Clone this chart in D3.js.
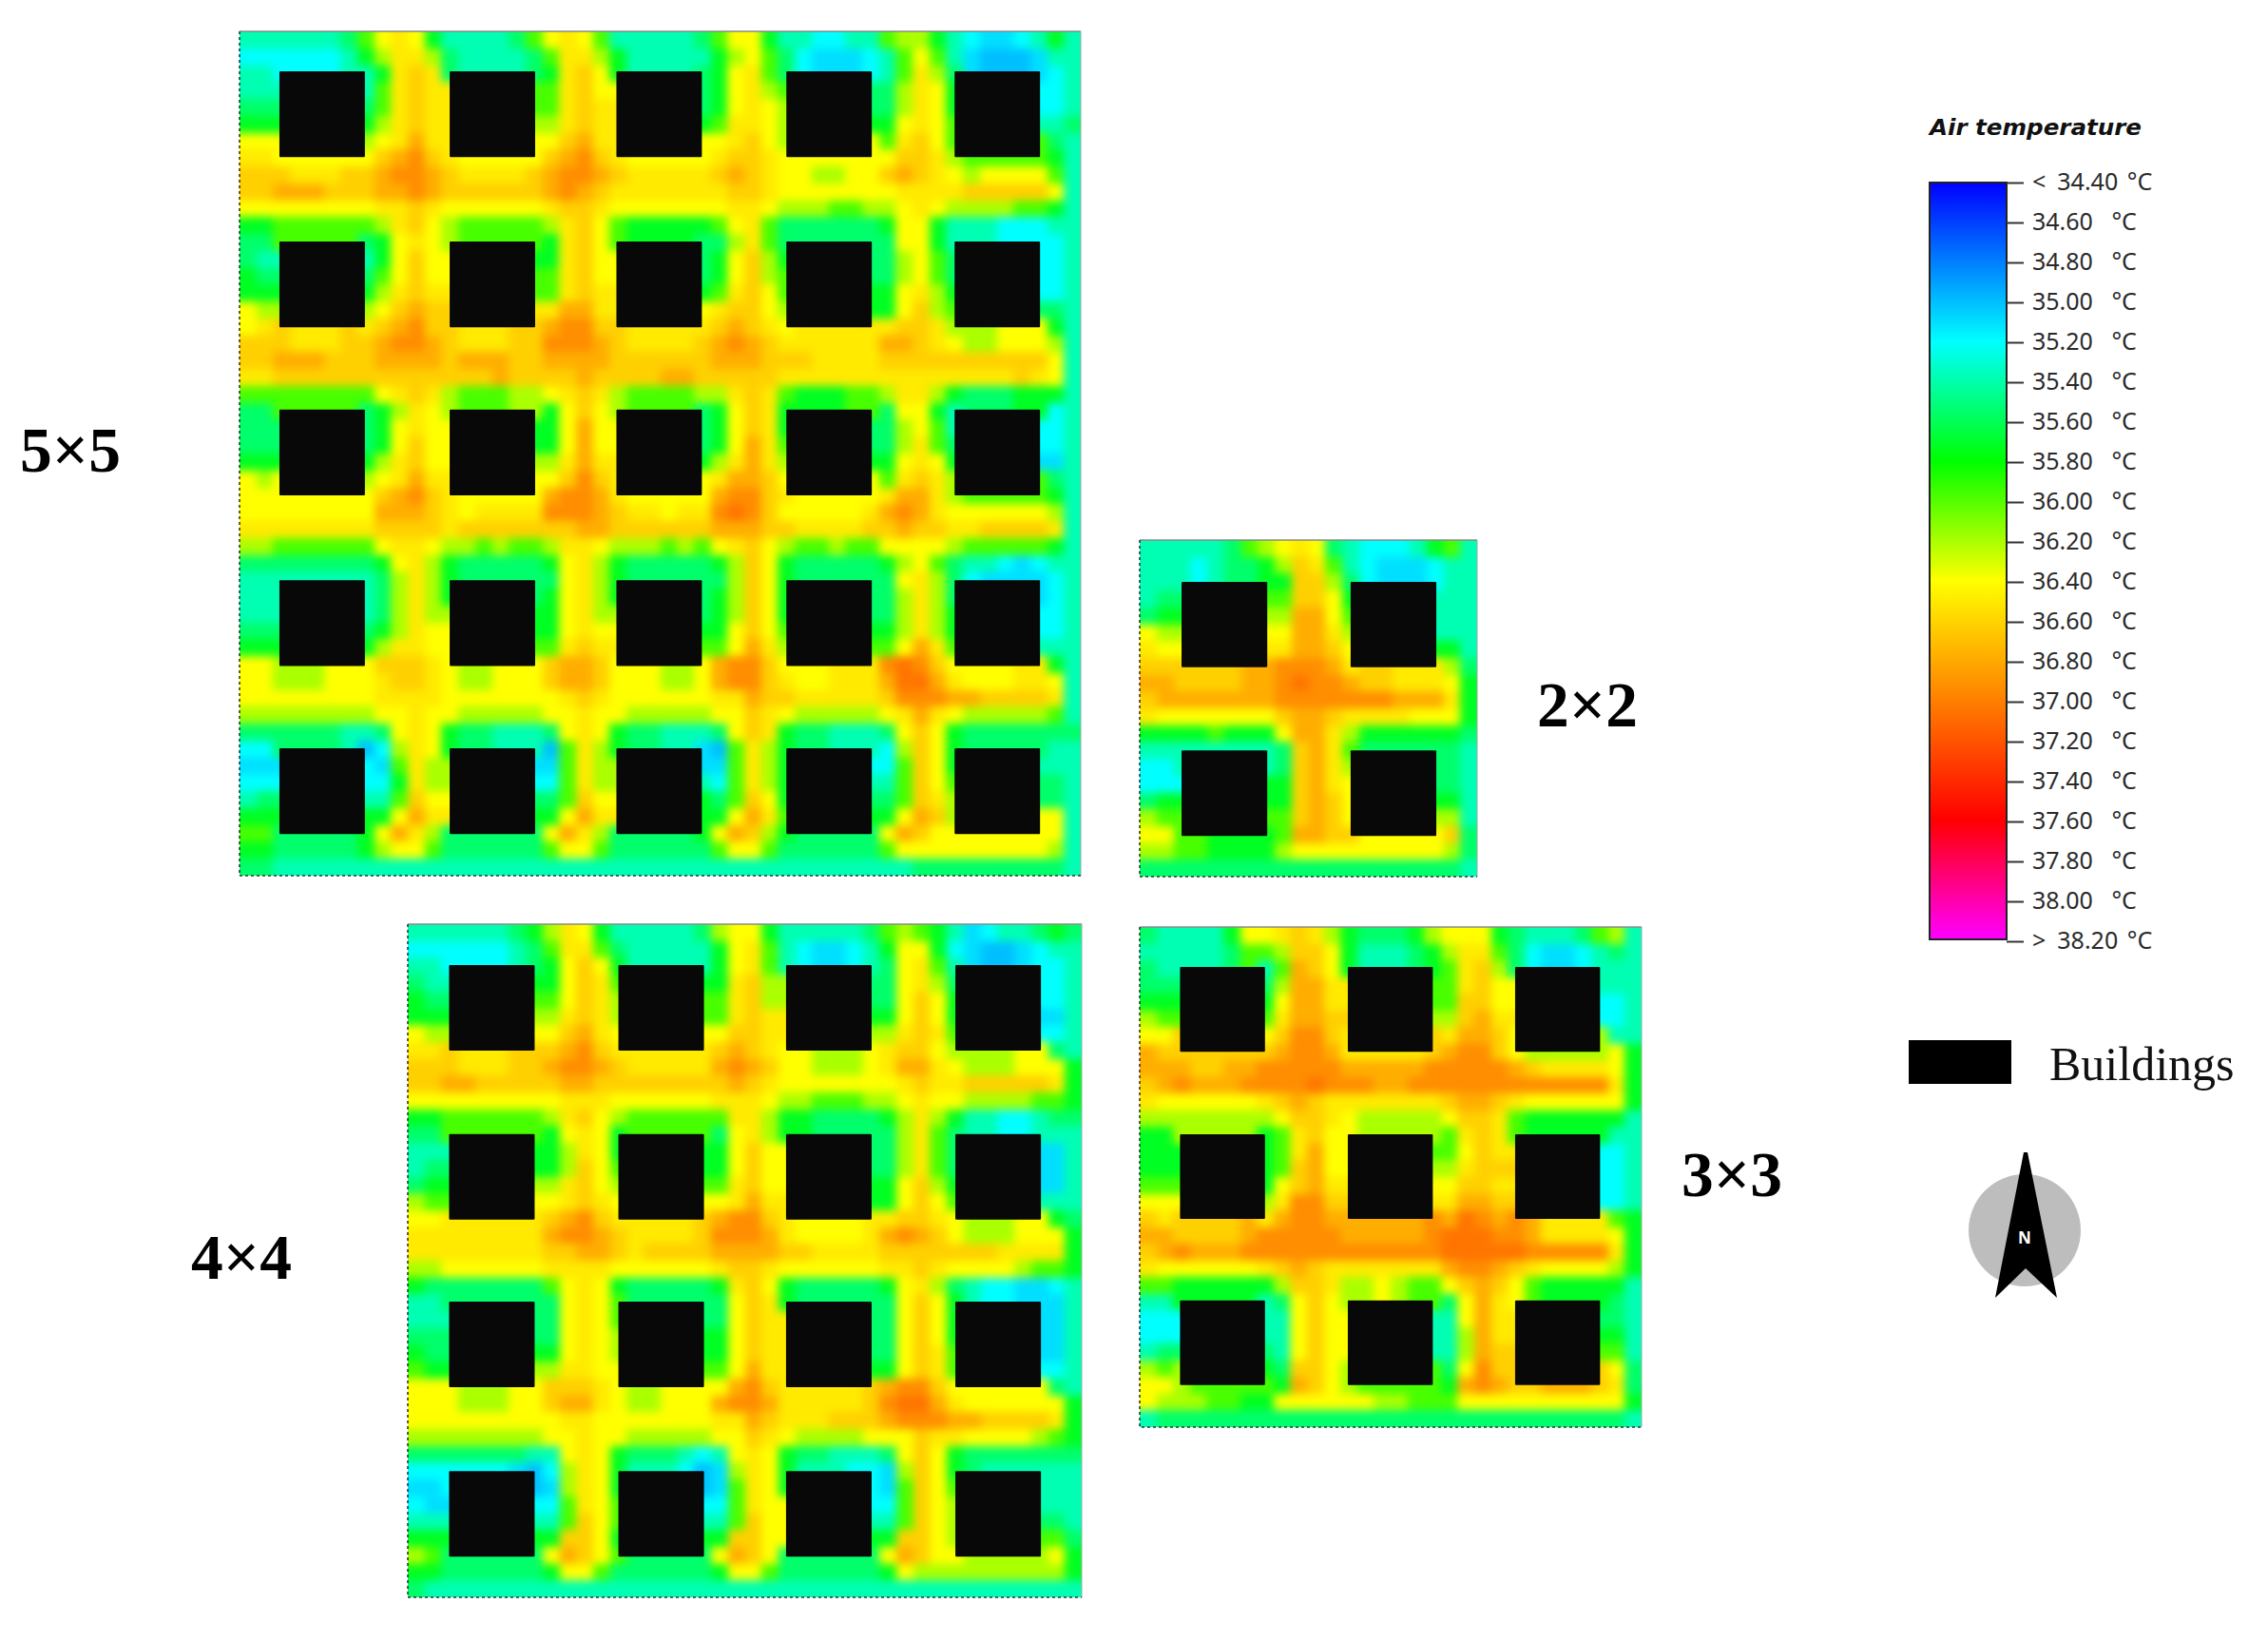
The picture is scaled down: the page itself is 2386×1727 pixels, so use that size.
<!DOCTYPE html>
<html><head><meta charset="utf-8"><title>Air temperature</title>
<script src="https://cdn.jsdelivr.net/npm/d3@7/dist/d3.min.js"></script>
<style>html,body{margin:0;padding:0;background:#fff}svg{display:block}</style></head>
<body><svg id="chart" width="2386" height="1727"></svg>
<script>
// Air temperature levels: a hex digit in the grids below indexes this list (°C)
const levelTemps = [35.0,35.1,35.2,35.38,35.55,35.72,35.97,36.2,36.4,36.5,36.62,36.78,36.93,37.05];

const legendStops = [34.4,35.2,35.8,36.4,37.6,38.2];
const legendColors = ["#0000ff","#00ffff","#00ff00","#ffff00","#ff0000","#ff00ff"];
const legendTicks = [34.4,34.6,34.8,35.0,35.2,35.4,35.6,35.8,36.0,36.2,36.4,36.6,36.8,37.0,37.2,37.4,37.6,37.8,38.0,38.2];

const grid5 = [
"3333334689 8533334689 8633333468 8533223367 7532112353",
"2222223579 9743333469 9753333357 8642111236 8631000133",
"3333333359 a964444459 a854444458 9643333336 9741111123",
"3333333369 a974444469 a864444458 9764444447 9851111123",
"4444444469 a974444469 a964444458 9875555547 9852222223",
"5555555579 a985555579 a975555569 9875555558 9862222234",
"8877777789 b98888888a b988888889 a877777769 a865555543",
"99888888ab ca988888ab ca9888889a a98888888a a976666653",
"aaa999aabc cba9999abc cba99999ab a9887788ab a987888863",
"aabbbaaabb cbaaaaaabc ba9999999a a988888889 999aaaaa83",
"8888888899 a98888889a a988888889 9877766778 9877776653",
"5566666679 a876666679 a865555568 9644444458 8533322233",
"4444444458 9854444459 a854444447 9643333348 8532210123",
"4333333358 a864444459 a864444458 a754444447 8642222223",
"5444444468 a874444469 a864444458 a764444447 8643333323",
"5555555579 a975555569 a975555569 a865555558 9752222223",
"877777778a ba9888889b b98888889a a877777758 a764444443",
"89999999ab ca999999bc ca999999ab a98888889a a976666553",
"aaa999aabc cba999aacc cba9999abc ba999999bb a987788873",
"aabbbaaabb bbabbbaabb bbaaaaaabb baaa9999aa aaaaaaaa83",
"99aaaaaaaa aaaaabaaaa baaaabbaaa aa99999999 999999a983",
"6666666689 a976667789 a976666779 a965556679 9754445553",
"4444444457 9854444458 a854444458 a953333348 8532110123",
"4444444458 9864444458 b864444458 a953333447 8632222223",
"4444444458 a864444458 b854444458 b964444447 9642222223",
"5555555579 a875555579 b985555579 b975555558 9852222213",
"8777777789 b98888888a ca8888889b ba87777769 a975555543",
"88888888ab ca988888bc cb988888bc ca9888889b b976666653",
"88888888bb ba989999cc cba99899cd ca888889bc b988888873",
"99999999aa aa9aaaaaaa bbaaaaaabb baa9999aab aa99aaaa93",
"7766666689 9877676679 9877767689 a876676688 8876666653",
"4444444458 9754444458 9754444457 a854444457 8643321233",
"3333333347 9754444448 9754444447 a854444448 9742111123",
"3333333347 9754444458 9754444457 a854444447 9742222223",
"3333333347 9754444458 9754444457 a854444447 9752222223",
"4444444457 9855555558 9855555558 a865555557 9752222223",
"5555555579 9867777769 a976666668 b977666668 b964444433",
"88888888aa a9888888ab ba888888bc ca888888cd ca86666553",
"887778889a a9877888ab ba888778bc ca988999bd db98889983",
"8888888899 9988888889 a988888899 baa99999ac ccbbaaaa93",
"7777777788 9887777788 9887777788 a987777789 b987777763",
"4444443348 9854433348 9854433348 a954433348 a854444444",
"2222221027 9853333106 9753333106 9753322227 a853333333",
"1122222216 9753333116 9753333116 9753333226 a854444433",
"2222222225 9754444326 9754444326 9754444336 a864444443",
"3444444336 a855555546 a855555546 a855555546 a974444443",
"5555555558 b965555558 b965555558 b965555558 ba76666683",
"665555558b 975555558b 975555558b a75555558b a88aaaa983",
"5544444578 8644444468 8644444468 8644444468 8888888873",
"4433333333 3333333333 3333333333 3333333333 4444444443"
];

const grid4 = [
"3333334579 8533333478 8533333467 6531233454",
"2222223469 9643333358 9632112358 8521001233",
"3333333358 a853333358 9632222248 9631111123",
"4333333358 a964444459 a753333348 9741111123",
"5444444468 a974444469 a764444448 a852222223",
"5555555579 a975555569 a975555558 a852222213",
"877777778a b98777778a a977777779 a964444423",
"99888888ab ca988888ab a98888889a a876666643",
"aaa999aabc cba99999bc ba8877789b b987778885",
"aabbaaaaab baaaaaaaab a988888889 a99aaaaa95",
"8888888889 9988888899 9877666778 9887777665",
"5566666679 a876666669 9755444457 9753322344",
"4444444458 9854444448 9753333347 9642210133",
"3333333357 9854444458 a864444447 9642222213",
"3444444457 a864444458 a864444447 9643333313",
"4555555579 a875555569 a875555558 a752222213",
"7666666689 a987777789 b977777758 a865555533",
"88888888ab ca988888bc ca8888889a a987766654",
"99999999bc cba9999acc cb988889bc ba87778885",
"99999999aa bba9aaaabb bbaa9999aa aaaaa99995",
"7788888899 998888889a a988888899 a988887665",
"5444444468 9854444459 a854444458 9743221123",
"3333333348 9864444448 a964444448 a853221013",
"3333333348 9865555548 a964444448 a853222213",
"4444444448 9875555558 a964444448 a853222213",
"5444444458 9875555558 a965555448 a964222213",
"6555555579 9886666668 b975555558 a965222223",
"88888888aa a98777778b ca888888bc ca86665543",
"88877788ab b9877888bc cb99999acd db98888885",
"8888888889 9888888899 ba999aaabc ccbbaaaa95",
"7777777788 9887777788 a987777888 a998888765",
"4444444338 9854443238 9854433348 a854444444",
"2222221027 9853332017 9853332217 a854333333",
"1122222217 9853333216 9853333216 a864444433",
"2122222226 9864444326 9864444326 a874444433",
"3344444436 a865555436 a855555436 a874444443",
"555555555a a85655555a a86655555a a875555564",
"765555558b a86555558b a86555558b a88aaaaa85",
"5544444458 8644444458 8644444458 7777777775",
"4333333333 3333333333 3333333333 3333333333"
];

const grid3 = [
"433335889a 9754445788 8543334673",
"333334667a a853334579 9642112343",
"433333336b a853333469 a741111233",
"444444447b b964444469 a852222233",
"555555558b b97555556a a863333223",
"766666669b ba8666667a b974444323",
"88888888ac ca8888889b ba86666533",
"baaaaaaabc cb99999abc ca87777785",
"bbbaabbccc ccbbbbbccc ccba999985",
"abcbbbcccc dcccbbcccc cccccccc95",
"98888889ab a9999999ab ba98888885",
"777777778a a98777778a a965555553",
"5555555569 a865555569 a964322233",
"5555555569 b865555568 a974333323",
"555555556a b875555579 aa85333323",
"665555558a b98666668a a986444323",
"887777779c ca8777779b ba87666423",
"a9999999bc cba99999bd cb97777765",
"bbaaaabccc ccbbbbbcdd dccb999985",
"abcbbbcccc ccccccccdd dddccccc95",
"98888889ab a9999999bc cba9888875",
"665555557a a97787668a ba86555553",
"3333333348 a854444448 b974444443",
"2223333338 a854333338 b974444443",
"2233333338 a865555337 b975555553",
"3444444438 a876655437 ba85555563",
"765555554a a876655548 ca86666784",
"887666665b a87666665b cbaabbba94",
"8777665588 8888776668 8888888885",
"3444444444 4444444444 4444444443"
];

const grid2 = [
"3333346789 8432223563",
"333234457a 9632111233",
"333333335a a741111233",
"344444446a a852222233",
"455555557b b862222233",
"877666668b b973333233",
"988888889b ba86666453",
"aaaaaaaacc cb98777774",
"bbaaaabbcd ccbaa99985",
"abbbbbbbcc cccccbbb95",
"98888888ab ba99998885",
"555565558b b975555554",
"333333334a b964444443",
"223333334a b974444443",
"223333335a b985555543",
"455555555a ba85555553",
"765555556a ba85555673",
"887666666b baabbccca4",
"7766555578 8888888874",
"4444444444 4444444443"
];

// Building footprints, in grid cells from the panel's top-left corner
const buildingCols5 = [2.37,12.49,22.4,32.5,42.5];
const buildingRows5 = [2.36,12.44,22.4,32.5,42.45];
const buildingCols4 = [2.45,12.5,22.45,32.5];
const buildingRows4 = [2.43,12.47,22.43,32.5];
const buildingCols3 = [2.41,12.44,22.44];
const buildingRows3 = [2.4,12.43,22.4];
const buildingCols2 = [2.48,12.5];
const buildingRows2 = [2.48,12.5];
const buildingSize = 5.08;

const panelNames = ["5×5","4×4","3×3","2×2"];
const panels = [
  {name:panelNames[0],grid:grid5,cols:buildingCols5,rows:buildingRows5,x:[252,1137],y:[33,921],lab:[21,496]},
  {name:panelNames[1],grid:grid4,cols:buildingCols4,rows:buildingRows4,x:[429,1138],y:[972,1680],lab:[201,1345]},
  {name:panelNames[2],grid:grid3,cols:buildingCols3,rows:buildingRows3,x:[1199,1727],y:[975,1501],lab:[1769,1258]},
  {name:panelNames[3],grid:grid2,cols:buildingCols2,rows:buildingRows2,x:[1199,1554],y:[568,922],lab:[1617,764]}
];

const svg = d3.select("#chart");
svg.append("rect").attr("width",2386).attr("height",1727).attr("fill","#fff");
const color = d3.scaleLinear().domain(legendStops).range(legendColors).clamp(true);
const defs = svg.append("defs");
const blur = defs.append("filter").attr("id","smooth")
  .attr("x","-6%").attr("y","-6%").attr("width","112%").attr("height","112%")
  .attr("color-interpolation-filters","sRGB");
blur.append("feGaussianBlur").attr("stdDeviation",5);

// Cells hidden under a footprint show the nearest visible cell's colour, so the
// smoothing does not pull hidden colours into the street next to a building.
function hiddenFill(rows,p){
  const n = rows.length, out = rows.map(r=>r.slice());
  const span = s=>{const a=[];for(let i=0;i<n;i++){if(i+0.5>s&&i+0.5<s+buildingSize)a.push(i);}return a;};
  p.rows.forEach(rs=>p.cols.forEach(cs=>{
    const R=span(rs),C=span(cs);
    const r0=R[0],r1=R[R.length-1],c0=C[0],c1=C[C.length-1];
    R.forEach(r=>C.forEach(c=>{
      const dl=c-c0,dr=c1-c,dt=r-r0,db=r1-r,m=Math.min(dl,dr,dt,db);
      let v;
      if(m===dt&&r0>0)v=rows[r0-1][c];
      else if(m===db&&r1<n-1)v=rows[r1+1][c];
      else if(m===dl&&c0>0)v=rows[r][c0-1];
      else v=rows[r][Math.min(c1+1,n-1)];
      out[r][c]=v;
    }));
  }));
  return out;
}

panels.forEach((p,pi)=>{
  const read = p.grid.map(r=>Array.from(r.replace(/ /g,"")).map(c=>levelTemps[parseInt(c,16)]));
  const rows = hiddenFill(read,p);
  const n = rows.length;
  const sx = d3.scaleLinear().domain([0,n]).range(p.x);
  const sy = d3.scaleLinear().domain([0,n]).range(p.y);
  const cells = [];
  rows.forEach((row,r)=>row.forEach((t,c)=>cells.push({r,c,t})));
  const pad = 24;
  defs.append("clipPath").attr("id","clip"+pi).append("rect")
    .attr("x",p.x[0]).attr("y",p.y[0]).attr("width",p.x[1]-p.x[0]).attr("height",p.y[1]-p.y[0]);
  const g = svg.append("g").attr("class","panel");
  g.append("g").attr("clip-path",`url(#clip${pi})`)
   .append("g").attr("filter","url(#smooth)")
   .selectAll("rect").data(cells).join("rect")
    .attr("shape-rendering","crispEdges")
    .attr("x",d=>sx(d.c)-(d.c===0?pad:0))
    .attr("y",d=>sy(d.r)-(d.r===0?pad:0))
    .attr("width",d=>sx(d.c+1)-sx(d.c)+0.6+(d.c===0||d.c===n-1?pad:0))
    .attr("height",d=>sy(d.r+1)-sy(d.r)+0.6+(d.r===0||d.r===n-1?pad:0))
    .attr("fill",d=>color(d.t));
  const blds = d3.cross(p.cols,p.rows);
  g.selectAll("rect.b").data(blds).join("rect").attr("class","b")
    .attr("x",d=>sx(d[0])).attr("y",d=>sy(d[1]))
    .attr("width",d=>sx(d[0]+buildingSize)-sx(d[0]))
    .attr("height",d=>sy(d[1]+buildingSize)-sy(d[1]))
    .attr("rx",1).attr("fill","#080808");
  g.append("path").attr("fill","none").attr("stroke","#8a8a8a").attr("stroke-width",1.5)
    .attr("d",`M${p.x[0]},${p.y[0]}H${p.x[1]}`);
  g.append("path").attr("fill","none").attr("stroke","#9aa").attr("stroke-width",1)
    .attr("d",`M${p.x[1]},${p.y[0]}V${p.y[1]}`);
  g.append("path").attr("fill","none").attr("stroke","#333").attr("stroke-width",1.6)
    .attr("stroke-dasharray","3,3")
    .attr("d",`M${p.x[0]},${p.y[0]}V${p.y[1]}H${p.x[1]}`);
  svg.append("text").attr("x",p.lab[0]).attr("y",p.lab[1])
    .attr("font-family","'Liberation Serif',serif").attr("font-weight","bold")
    .attr("font-size",67.5).attr("fill","#000").text(p.name);
});

// Legend colour bar
const ly = d3.scaleLinear().domain([34.4,38.2]).range([192,990]);
const grad = defs.append("linearGradient").attr("id","ramp").attr("x1",0).attr("x2",0).attr("y1",0).attr("y2",1);
legendStops.forEach((s,i)=>grad.append("stop")
  .attr("offset",(s-34.4)/(38.2-34.4)).attr("stop-color",legendColors[i]));
svg.append("rect").attr("x",2030).attr("y",192).attr("width",81).attr("height",796)
  .attr("fill","url(#ramp)").attr("stroke","#222").attr("stroke-width",2);
svg.append("text").attr("x",2030).attr("y",142).attr("font-family","'DejaVu Sans',sans-serif")
  .attr("font-style","italic").attr("font-weight","bold").attr("font-size",22.5).attr("fill","#111")
  .attr("textLength",223).attr("lengthAdjust","spacingAndGlyphs")
  .text("Air temperature");
const axis = d3.axisRight(ly).tickValues(legendTicks).tickSize(18).tickPadding(9)
  .tickFormat(v=>v.toFixed(2));
const ag = svg.append("g").attr("transform","translate(2111,0)").call(axis);
ag.select(".domain").remove();
ag.selectAll(".tick line").attr("stroke","#333").attr("stroke-width",2);
ag.selectAll(".tick text").attr("font-family","'Noto Sans',sans-serif").attr("font-size",25)
  .attr("fill","#2a2a2a").attr("dy","0.28em")
  .each(function(v,i){
    const t = d3.select(this), label = t.text();
    if(i===0||i===legendTicks.length-1){
      t.text(i===0?"<":">");
      t.append("tspan").attr("dx",12).text(label);
      t.append("tspan").attr("dx",3).text(" °C");
    } else {
      t.append("tspan").attr("dx",13).text(" °C");
    }
  });

// Buildings key
svg.append("rect").attr("x",2008).attr("y",1094).attr("width",108).attr("height",46).attr("fill","#000");
svg.append("text").attr("x",2156).attr("y",1136).attr("font-family","'Liberation Serif',serif")
  .attr("font-size",50).attr("fill","#111").text("Buildings");

// North arrow
svg.append("circle").attr("cx",2130).attr("cy",1294).attr("r",59).attr("fill","#bdbdbd");
svg.append("path").attr("fill","#000").attr("d","M2129,1212L2133,1212L2164,1365L2131,1334L2099,1365Z");
svg.append("text").attr("x",2130).attr("y",1308).attr("text-anchor","middle")
  .attr("font-family","'Noto Sans',sans-serif").attr("font-weight","bold").attr("font-size",17)
  .attr("fill","#fff").text("N");
</script></body></html>
